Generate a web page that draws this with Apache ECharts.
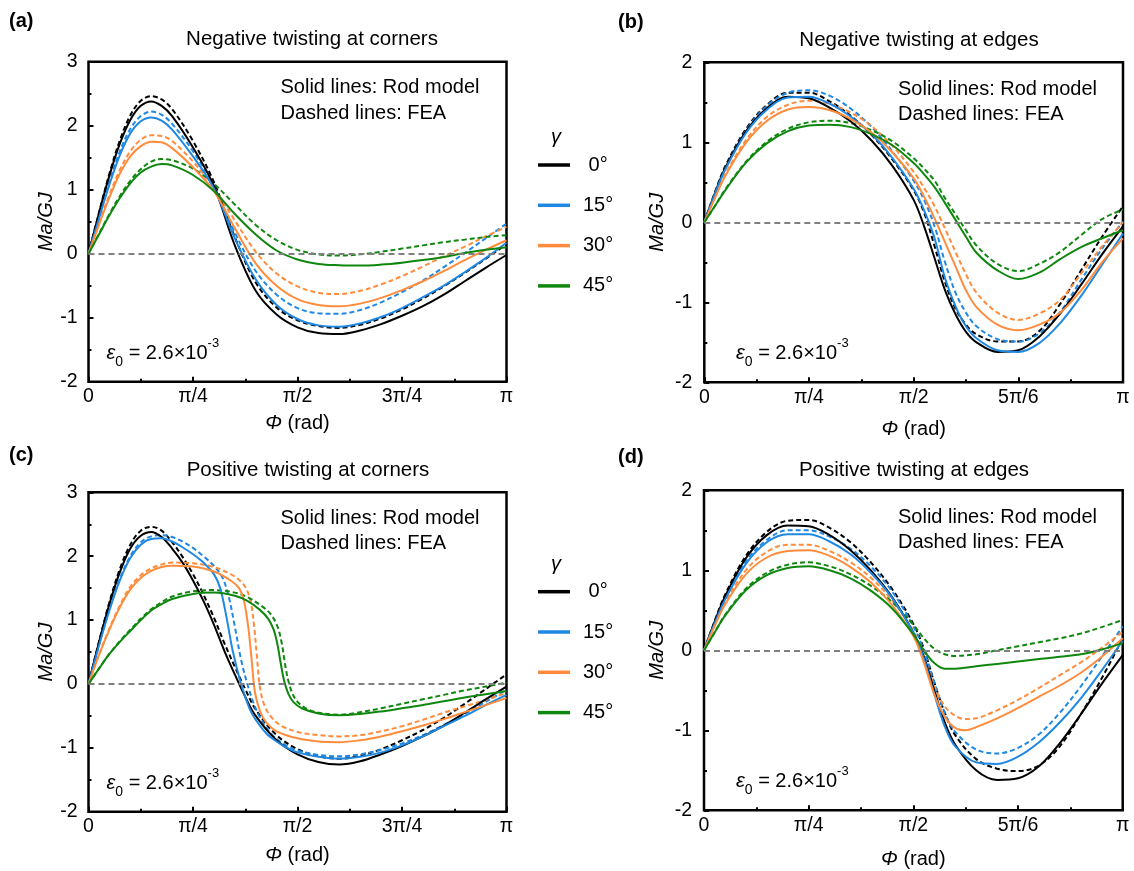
<!DOCTYPE html>
<html><head><meta charset="utf-8">
<script src="https://cdn.jsdelivr.net/npm/echarts@6/dist/echarts.min.js"></script>
<style>html,body{margin:0;padding:0;background:#fff}#c{width:1134px;height:871px}</style>
</head><body><div id="c"></div>
<script>
// x values are phi/pi ; y values are Ma/GJ
const xLabelsCorners = ['0','π/4','π/2','3π/4','π'];
const xLabelsEdges = ['0','π/4','π/2','5π/6','π'];
const gammaNames = ['0°','15°','30°','45°'];
const lineColors = ['#000000','#1f88e3','#ff8c3c','#0f870f'];

// (a) Negative twisting at corners
const A_rod0 = [[0,0],[0.025,0.63],[0.05,1.22],[0.075,1.72],[0.1,2.09],[0.125,2.31],[0.15,2.38],[0.175,2.31],[0.2,2.15],[0.25,1.66],[0.3,1.06],[0.35,0.13],[0.4,-0.58],[0.45,-0.95],[0.5,-1.15],[0.55,-1.24],[0.6,-1.255],[0.65,-1.2],[0.7,-1.1],[0.75,-0.97],[0.8,-0.82],[0.85,-0.64],[0.9,-0.43],[0.95,-0.22],[1,-0.02]];
const A_fea0 = [[0,0],[0.025,0.64],[0.05,1.25],[0.075,1.77],[0.1,2.16],[0.125,2.39],[0.15,2.46],[0.175,2.41],[0.2,2.26],[0.25,1.76],[0.3,1.12],[0.35,0.26],[0.4,-0.45],[0.45,-0.84],[0.5,-1.04],[0.55,-1.13],[0.6,-1.16],[0.65,-1.11],[0.7,-1.01],[0.75,-0.87],[0.8,-0.7],[0.85,-0.51],[0.9,-0.3],[0.95,-0.08],[1,0.15]];
const A_rod15 = [[0,0],[0.025,0.55],[0.05,1.08],[0.075,1.54],[0.1,1.88],[0.125,2.07],[0.15,2.13],[0.175,2.08],[0.2,1.94],[0.25,1.52],[0.3,1.02],[0.35,0.24],[0.4,-0.4],[0.45,-0.8],[0.5,-1.02],[0.55,-1.12],[0.6,-1.14],[0.65,-1.09],[0.7,-0.99],[0.75,-0.85],[0.8,-0.68],[0.85,-0.5],[0.9,-0.29],[0.95,-0.07],[1,0.17]];
const A_fea15 = [[0,0],[0.025,0.57],[0.05,1.12],[0.075,1.6],[0.1,1.95],[0.125,2.15],[0.15,2.22],[0.175,2.17],[0.2,2.03],[0.25,1.6],[0.3,1.05],[0.35,0.33],[0.4,-0.27],[0.45,-0.64],[0.5,-0.85],[0.55,-0.93],[0.6,-0.94],[0.65,-0.88],[0.7,-0.76],[0.75,-0.6],[0.8,-0.42],[0.85,-0.21],[0.9,0.01],[0.95,0.24],[1,0.47]];
const A_rod30 = [[0,0],[0.025,0.45],[0.05,0.88],[0.075,1.25],[0.1,1.52],[0.125,1.68],[0.15,1.75],[0.175,1.74],[0.2,1.65],[0.25,1.35],[0.3,0.98],[0.35,0.4],[0.4,-0.15],[0.45,-0.5],[0.5,-0.71],[0.55,-0.8],[0.6,-0.82],[0.65,-0.78],[0.7,-0.69],[0.75,-0.57],[0.8,-0.43],[0.85,-0.27],[0.9,-0.1],[0.95,0.06],[1,0.21]];
const A_fea30 = [[0,0],[0.025,0.47],[0.05,0.92],[0.075,1.31],[0.1,1.6],[0.125,1.78],[0.15,1.85],[0.175,1.84],[0.2,1.76],[0.25,1.44],[0.3,1.03],[0.35,0.52],[0.4,0.03],[0.45,-0.31],[0.5,-0.51],[0.55,-0.61],[0.6,-0.63],[0.65,-0.58],[0.7,-0.48],[0.75,-0.35],[0.8,-0.2],[0.85,-0.04],[0.9,0.11],[0.95,0.27],[1,0.42]];
const A_rod45 = [[0,0],[0.025,0.3],[0.05,0.6],[0.075,0.87],[0.1,1.1],[0.125,1.27],[0.15,1.36],[0.175,1.4],[0.2,1.38],[0.25,1.23],[0.3,0.98],[0.35,0.62],[0.4,0.3],[0.45,0.05],[0.5,-0.09],[0.55,-0.16],[0.6,-0.18],[0.65,-0.185],[0.7,-0.17],[0.75,-0.14],[0.8,-0.1],[0.85,-0.05],[0.9,0.01],[0.95,0.06],[1,0.1]];
const A_fea45 = [[0,0],[0.025,0.31],[0.05,0.62],[0.075,0.9],[0.1,1.14],[0.125,1.32],[0.15,1.44],[0.175,1.48],[0.2,1.46],[0.25,1.33],[0.3,1.09],[0.35,0.77],[0.4,0.45],[0.45,0.21],[0.5,0.06],[0.55,-0.01],[0.6,-0.03],[0.65,-0.01],[0.7,0.03],[0.75,0.08],[0.8,0.13],[0.85,0.18],[0.9,0.22],[0.95,0.26],[1,0.29]];

// (b) Negative twisting at edges
const B_rod0 = [[0,0],[0.025,0.36],[0.05,0.68],[0.1,1.14],[0.15,1.43],[0.2,1.57],[0.25,1.55],[0.3,1.43],[0.35,1.26],[0.4,1.02],[0.45,0.7],[0.5,0.28],[0.525,-0.05],[0.55,-0.45],[0.575,-0.85],[0.6,-1.15],[0.625,-1.37],[0.65,-1.5],[0.7,-1.62],[0.75,-1.6],[0.8,-1.43],[0.85,-1.14],[0.9,-0.78],[0.95,-0.4],[1,-0.05]];
const B_fea0 = [[0,0],[0.025,0.37],[0.05,0.7],[0.1,1.17],[0.15,1.47],[0.2,1.62],[0.25,1.62],[0.3,1.51],[0.35,1.33],[0.4,1.09],[0.45,0.78],[0.5,0.4],[0.525,0.12],[0.55,-0.3],[0.575,-0.75],[0.6,-1.08],[0.625,-1.28],[0.65,-1.4],[0.7,-1.49],[0.75,-1.49],[0.8,-1.36],[0.85,-1.02],[0.9,-0.6],[0.95,-0.18],[1,0.2]];
const B_rod15 = [[0,0],[0.025,0.35],[0.05,0.66],[0.1,1.12],[0.15,1.41],[0.2,1.56],[0.25,1.57],[0.3,1.48],[0.35,1.32],[0.4,1.1],[0.45,0.8],[0.5,0.42],[0.525,0.15],[0.55,-0.2],[0.575,-0.7],[0.6,-1.05],[0.625,-1.3],[0.65,-1.45],[0.7,-1.6],[0.75,-1.62],[0.8,-1.51],[0.85,-1.26],[0.9,-0.92],[0.95,-0.53],[1,-0.14]];
const B_fea15 = [[0,0],[0.025,0.36],[0.05,0.68],[0.1,1.15],[0.15,1.46],[0.2,1.62],[0.25,1.65],[0.3,1.58],[0.35,1.42],[0.4,1.19],[0.45,0.88],[0.5,0.52],[0.525,0.28],[0.55,-0.05],[0.575,-0.5],[0.6,-0.88],[0.625,-1.13],[0.65,-1.3],[0.7,-1.46],[0.75,-1.49],[0.8,-1.39],[0.85,-1.12],[0.9,-0.72],[0.95,-0.33],[1,0.01]];
const B_rod30 = [[0,0],[0.025,0.3],[0.05,0.58],[0.1,1.0],[0.15,1.27],[0.2,1.41],[0.25,1.44],[0.3,1.4],[0.35,1.29],[0.4,1.12],[0.45,0.87],[0.5,0.55],[0.525,0.32],[0.55,0.05],[0.575,-0.25],[0.6,-0.55],[0.625,-0.85],[0.65,-1.06],[0.7,-1.28],[0.75,-1.35],[0.8,-1.28],[0.85,-1.13],[0.9,-0.85],[0.95,-0.5],[1,-0.2]];
const B_fea30 = [[0,0],[0.025,0.31],[0.05,0.6],[0.1,1.03],[0.15,1.32],[0.2,1.47],[0.25,1.52],[0.3,1.48],[0.35,1.37],[0.4,1.2],[0.45,0.95],[0.5,0.63],[0.525,0.43],[0.55,0.2],[0.575,-0.08],[0.6,-0.37],[0.625,-0.65],[0.65,-0.88],[0.7,-1.13],[0.75,-1.22],[0.8,-1.14],[0.85,-0.97],[0.9,-0.64],[0.95,-0.3],[1,0.0]];
const B_rod45 = [[0,0],[0.025,0.2],[0.05,0.4],[0.1,0.75],[0.15,0.99],[0.2,1.14],[0.25,1.21],[0.3,1.22],[0.35,1.19],[0.4,1.1],[0.45,0.96],[0.5,0.74],[0.525,0.6],[0.55,0.44],[0.575,0.24],[0.6,0.03],[0.625,-0.18],[0.65,-0.38],[0.7,-0.6],[0.75,-0.71],[0.8,-0.63],[0.85,-0.46],[0.9,-0.31],[0.95,-0.2],[1,-0.1]];
const B_fea45 = [[0,0],[0.025,0.2],[0.05,0.41],[0.1,0.76],[0.15,1.01],[0.2,1.17],[0.25,1.25],[0.3,1.27],[0.35,1.24],[0.4,1.15],[0.45,1.01],[0.5,0.8],[0.525,0.67],[0.55,0.52],[0.575,0.3],[0.6,0.1],[0.625,-0.1],[0.65,-0.29],[0.7,-0.52],[0.75,-0.61],[0.8,-0.52],[0.85,-0.37],[0.9,-0.16],[0.95,0.04],[1,0.16]];

// (c) Positive twisting at corners
const C_rod0 = [[0,0],[0.025,0.65],[0.05,1.25],[0.075,1.75],[0.1,2.12],[0.125,2.32],[0.15,2.38],[0.175,2.3],[0.2,2.12],[0.225,1.9],[0.25,1.62],[0.275,1.3],[0.3,0.93],[0.325,0.52],[0.35,0.15],[0.375,-0.2],[0.4,-0.5],[0.45,-0.88],[0.5,-1.1],[0.55,-1.22],[0.6,-1.26],[0.65,-1.21],[0.7,-1.1],[0.75,-0.97],[0.8,-0.82],[0.85,-0.65],[0.9,-0.45],[0.95,-0.24],[1,-0.04]];
const C_fea0 = [[0,0],[0.025,0.66],[0.05,1.28],[0.075,1.8],[0.1,2.18],[0.125,2.4],[0.15,2.46],[0.175,2.4],[0.2,2.22],[0.225,1.99],[0.25,1.72],[0.275,1.4],[0.3,1.04],[0.325,0.64],[0.35,0.27],[0.375,-0.08],[0.4,-0.4],[0.45,-0.8],[0.5,-1.02],[0.55,-1.13],[0.6,-1.17],[0.65,-1.12],[0.7,-1.02],[0.75,-0.88],[0.8,-0.72],[0.85,-0.53],[0.9,-0.31],[0.95,-0.08],[1,0.15]];
const C_rod15 = [[0,0],[0.025,0.6],[0.05,1.15],[0.075,1.62],[0.1,1.97],[0.125,2.18],[0.15,2.27],[0.175,2.28],[0.2,2.23],[0.225,2.14],[0.25,2.03],[0.275,1.9],[0.3,1.72],[0.315,1.5],[0.33,1.05],[0.345,0.52],[0.365,0.0],[0.385,-0.38],[0.4,-0.56],[0.425,-0.77],[0.45,-0.9],[0.475,-1.0],[0.5,-1.07],[0.55,-1.14],[0.6,-1.17],[0.65,-1.14],[0.7,-1.07],[0.75,-0.96],[0.8,-0.82],[0.85,-0.66],[0.9,-0.5],[0.95,-0.33],[1,-0.17]];
const C_fea15 = [[0,0],[0.025,0.61],[0.05,1.17],[0.075,1.65],[0.1,2.0],[0.125,2.22],[0.15,2.31],[0.175,2.33],[0.2,2.3],[0.225,2.23],[0.25,2.13],[0.275,2.0],[0.3,1.85],[0.32,1.67],[0.335,1.38],[0.35,0.9],[0.365,0.38],[0.38,0.0],[0.395,-0.3],[0.41,-0.52],[0.44,-0.8],[0.475,-0.97],[0.5,-1.04],[0.55,-1.11],[0.6,-1.13],[0.65,-1.1],[0.7,-1.03],[0.75,-0.93],[0.8,-0.8],[0.85,-0.64],[0.9,-0.47],[0.95,-0.28],[1,-0.09]];
const C_rod30 = [[0,0],[0.025,0.45],[0.05,0.85],[0.075,1.2],[0.1,1.48],[0.125,1.66],[0.15,1.77],[0.175,1.83],[0.2,1.85],[0.25,1.84],[0.3,1.76],[0.34,1.62],[0.36,1.5],[0.372,1.3],[0.382,0.9],[0.39,0.4],[0.398,-0.12],[0.41,-0.42],[0.425,-0.6],[0.45,-0.74],[0.5,-0.85],[0.55,-0.9],[0.6,-0.91],[0.65,-0.88],[0.7,-0.82],[0.75,-0.74],[0.8,-0.65],[0.85,-0.55],[0.9,-0.44],[0.95,-0.33],[1,-0.22]];
const C_fea30 = [[0,0],[0.025,0.46],[0.05,0.87],[0.075,1.23],[0.1,1.52],[0.125,1.7],[0.15,1.81],[0.175,1.87],[0.2,1.9],[0.25,1.89],[0.3,1.83],[0.34,1.72],[0.36,1.63],[0.375,1.52],[0.387,1.32],[0.396,0.92],[0.403,0.42],[0.41,-0.05],[0.42,-0.32],[0.435,-0.5],[0.46,-0.65],[0.5,-0.75],[0.55,-0.8],[0.6,-0.82],[0.65,-0.8],[0.7,-0.74],[0.75,-0.66],[0.8,-0.56],[0.85,-0.45],[0.9,-0.35],[0.95,-0.25],[1,-0.14]];
const C_rod45 = [[0,0],[0.025,0.24],[0.05,0.47],[0.075,0.66],[0.1,0.83],[0.125,1.0],[0.15,1.15],[0.175,1.25],[0.2,1.33],[0.25,1.41],[0.3,1.43],[0.35,1.38],[0.38,1.3],[0.41,1.16],[0.43,1.02],[0.443,0.85],[0.452,0.62],[0.46,0.32],[0.468,0.05],[0.478,-0.15],[0.49,-0.28],[0.51,-0.38],[0.55,-0.46],[0.6,-0.49],[0.65,-0.47],[0.7,-0.43],[0.75,-0.38],[0.8,-0.33],[0.85,-0.27],[0.9,-0.21],[0.95,-0.16],[1,-0.11]];
const C_fea45 = [[0,0],[0.025,0.24],[0.05,0.47],[0.075,0.67],[0.1,0.85],[0.125,1.02],[0.15,1.17],[0.175,1.28],[0.2,1.37],[0.25,1.45],[0.3,1.47],[0.35,1.43],[0.38,1.36],[0.41,1.24],[0.435,1.1],[0.452,0.9],[0.462,0.65],[0.47,0.32],[0.478,0.05],[0.488,-0.15],[0.5,-0.28],[0.52,-0.38],[0.55,-0.45],[0.6,-0.48],[0.65,-0.44],[0.7,-0.38],[0.75,-0.31],[0.8,-0.24],[0.85,-0.17],[0.9,-0.1],[0.95,-0.04],[1,0.02]];

// (d) Positive twisting at edges
const D_rod0 = [[0,0],[0.025,0.35],[0.05,0.67],[0.1,1.15],[0.15,1.44],[0.2,1.56],[0.25,1.55],[0.3,1.44],[0.35,1.25],[0.4,0.99],[0.45,0.66],[0.5,0.22],[0.525,-0.08],[0.55,-0.5],[0.575,-0.9],[0.6,-1.18],[0.65,-1.5],[0.7,-1.62],[0.75,-1.6],[0.8,-1.45],[0.85,-1.16],[0.9,-0.8],[0.95,-0.42],[1,-0.06]];
const D_fea0 = [[0,0],[0.025,0.36],[0.05,0.69],[0.1,1.18],[0.15,1.48],[0.2,1.62],[0.25,1.63],[0.3,1.53],[0.35,1.35],[0.4,1.09],[0.45,0.76],[0.5,0.33],[0.525,0.02],[0.55,-0.4],[0.575,-0.78],[0.6,-1.06],[0.65,-1.36],[0.7,-1.48],[0.75,-1.51],[0.8,-1.44],[0.85,-1.2],[0.9,-0.8],[0.95,-0.35],[1,0.15]];
const D_rod15 = [[0,0],[0.025,0.33],[0.05,0.63],[0.1,1.08],[0.15,1.35],[0.2,1.45],[0.25,1.45],[0.3,1.36],[0.35,1.2],[0.4,0.96],[0.45,0.65],[0.5,0.22],[0.525,-0.1],[0.55,-0.55],[0.575,-0.95],[0.6,-1.2],[0.65,-1.4],[0.7,-1.42],[0.75,-1.33],[0.8,-1.15],[0.85,-0.9],[0.9,-0.6],[0.95,-0.25],[1,0.12]];
const D_fea15 = [[0,0],[0.025,0.34],[0.05,0.65],[0.1,1.11],[0.15,1.38],[0.2,1.5],[0.25,1.5],[0.3,1.42],[0.35,1.27],[0.4,1.04],[0.45,0.73],[0.5,0.3],[0.525,0.0],[0.55,-0.4],[0.575,-0.78],[0.6,-1.02],[0.65,-1.24],[0.7,-1.29],[0.75,-1.22],[0.8,-1.05],[0.85,-0.78],[0.9,-0.45],[0.95,-0.08],[1,0.3]];
const D_rod30 = [[0,0],[0.025,0.3],[0.05,0.57],[0.1,0.95],[0.15,1.16],[0.2,1.24],[0.25,1.25],[0.3,1.18],[0.35,1.04],[0.4,0.84],[0.45,0.56],[0.5,0.18],[0.525,-0.15],[0.55,-0.55],[0.575,-0.83],[0.6,-0.97],[0.625,-1.0],[0.65,-0.96],[0.7,-0.85],[0.75,-0.72],[0.8,-0.58],[0.85,-0.44],[0.9,-0.28],[0.95,-0.08],[1,0.15]];
const D_fea30 = [[0,0],[0.025,0.31],[0.05,0.59],[0.1,1.0],[0.15,1.23],[0.2,1.32],[0.25,1.32],[0.3,1.24],[0.35,1.1],[0.4,0.9],[0.45,0.62],[0.5,0.24],[0.525,-0.08],[0.55,-0.45],[0.575,-0.7],[0.6,-0.82],[0.625,-0.86],[0.65,-0.85],[0.7,-0.75],[0.75,-0.62],[0.8,-0.47],[0.85,-0.31],[0.9,-0.15],[0.95,0.03],[1,0.23]];
const D_rod45 = [[0,0],[0.025,0.22],[0.05,0.43],[0.1,0.75],[0.15,0.94],[0.2,1.03],[0.25,1.05],[0.3,1.0],[0.35,0.9],[0.4,0.74],[0.45,0.52],[0.5,0.2],[0.525,0.0],[0.55,-0.16],[0.575,-0.23],[0.6,-0.23],[0.65,-0.2],[0.7,-0.17],[0.75,-0.14],[0.8,-0.11],[0.85,-0.08],[0.9,-0.05],[0.95,0.01],[1,0.09]];
const D_fea45 = [[0,0],[0.025,0.22],[0.05,0.44],[0.1,0.77],[0.15,0.97],[0.2,1.07],[0.25,1.1],[0.3,1.05],[0.35,0.95],[0.4,0.8],[0.45,0.6],[0.5,0.32],[0.525,0.15],[0.55,0.02],[0.575,-0.05],[0.6,-0.07],[0.65,-0.05],[0.7,0.0],[0.75,0.05],[0.8,0.1],[0.85,0.15],[0.9,0.21],[0.95,0.29],[1,0.38]];

const FONT = "'Liberation Sans', Arial, Helvetica, sans-serif";

const panels = [
  {grid:{left:88.5, top:61.7, width:418, height:320}, ymin:-2, ymax:3, xl:xLabelsCorners,
   rod:[A_rod0,A_rod15,A_rod30,A_rod45], fea:[A_fea0,A_fea15,A_fea30,A_fea45], yGap:31, xGap:32, yMargin:11},
  {grid:{left:704.3, top:62.3, width:418.7, height:320}, ymin:-2, ymax:2, xl:xLabelsEdges,
   rod:[B_rod0,B_rod15,B_rod30,B_rod45], fea:[B_fea0,B_fea15,B_fea30,B_fea45], yGap:37, xGap:37, yMargin:12},
  {grid:{left:88.5, top:492.3, width:418, height:319.5}, ymin:-2, ymax:3, xl:xLabelsCorners,
   rod:[C_rod0,C_rod15,C_rod30,C_rod45], fea:[C_fea0,C_fea15,C_fea30,C_fea45], yGap:31, xGap:34, yMargin:11},
  {grid:{left:704, top:490.3, width:418.7, height:320}, ymin:-2, ymax:2, xl:xLabelsEdges,
   rod:[D_rod0,D_rod15,D_rod30,D_rod45], fea:[D_fea0,D_fea15,D_fea30,D_fea45], yGap:37, xGap:39, yMargin:12}
];

const grids = [], xAxes = [], yAxes = [], series = [];
panels.forEach((p, i) => {
  grids.push(Object.assign({show:true, borderColor:'#000', borderWidth:2.5, backgroundColor:'transparent', containLabel:false}, p.grid));
  xAxes.push({
    type:'value', gridIndex:i, min:0, max:1, interval:0.25, position:'bottom',
    axisLine:{show:false, onZero:false}, splitLine:{show:false},
    axisTick:{show:true, inside:true, length:5, lineStyle:{color:'#000', width:2}},
    minorTick:{show:true, splitNumber:2, length:3, lineStyle:{color:'#000', width:2}},
    axisLabel:{color:'#000', fontSize:19.5, fontFamily:FONT, margin:5,
      formatter: v => p.xl[Math.round(v / 0.25)]},
    name:'{i|Φ} (rad)', nameLocation:'middle', nameGap:p.xGap,
    nameTextStyle:{color:'#000', fontSize:20, fontFamily:FONT,
      rich:{i:{fontStyle:'italic', fontSize:20, fontFamily:FONT, color:'#000'}}}
  });
  yAxes.push({
    type:'value', gridIndex:i, min:p.ymin, max:p.ymax, interval:1, position:'left',
    axisLine:{show:false, onZero:false}, splitLine:{show:false},
    axisTick:{show:true, inside:true, length:5, lineStyle:{color:'#000', width:2}},
    minorTick:{show:true, splitNumber:2, length:3, lineStyle:{color:'#000', width:2}},
    axisLabel:{color:'#000', fontSize:19.5, fontFamily:FONT, margin:p.yMargin},
    name:'Ma/GJ', nameLocation:'middle', nameGap:p.yGap,
    nameTextStyle:{color:'#000', fontSize:20, fontStyle:'italic', fontFamily:FONT}
  });
  for (let k = 0; k < 4; k++) {
    series.push({
      type:'line', name:gammaNames[k], xAxisIndex:i, yAxisIndex:i, data:p.rod[k],
      showSymbol:false, symbol:'none', smooth:0.35, silent:true,
      itemStyle:{color:lineColors[k]},
      lineStyle:{color:lineColors[k], width:2, type:'solid'},
      z: 3,
      markLine: k === 0 ? {silent:true, symbol:'none', label:{show:false}, animation:false,
        lineStyle:{color:'#808080', type:[6,4], width:1.8}, data:[{yAxis:0}]} : undefined
    });
    series.push({
      type:'line', name:gammaNames[k], xAxisIndex:i, yAxisIndex:i, data:p.fea[k],
      showSymbol:false, symbol:'none', smooth:0.35, silent:true,
      itemStyle:{color:lineColors[k]},
      lineStyle:{color:lineColors[k], width:2, type:[5,3]},
      z: 2
    });
  }
});

function txt(x, y, text, opts) {
  return {type:'text', x:x, y:y, silent:true, style:Object.assign({
    text:text, fill:'#000', font:'20px ' + FONT,
    align:'left', verticalAlign:'middle', textAlign:'left', textVerticalAlign:'middle'}, opts || {})};
}
function ctxt(x, y, text, opts) {
  return txt(x, y, text, Object.assign({align:'center', textAlign:'center'}, opts || {}));
}
const epsRich = {
  e:{fontSize:20, fontStyle:'italic', fontFamily:FONT, lineHeight:32, fill:'#000', color:'#000'},
  m:{fontSize:20, fontFamily:FONT, lineHeight:32, fill:'#000', color:'#000'},
  s:{fontSize:14, fontFamily:FONT, lineHeight:14, verticalAlign:'bottom', fill:'#000', color:'#000'},
  p:{fontSize:13, fontFamily:FONT, lineHeight:24, verticalAlign:'top', fill:'#000', color:'#000'}
};
const epsText = '{e|ε}{s|0}{m| = 2.6×10}{p|-3}';
function eps(x, y) { return txt(x, y, epsText, {rich:epsRich}); }

const graphics = [
  txt(9, 21, '(a)', {font:'bold 20px ' + FONT}),
  txt(618, 22, '(b)', {font:'bold 20px ' + FONT}),
  txt(9, 455, '(c)', {font:'bold 20px ' + FONT}),
  txt(618, 457, '(d)', {font:'bold 20px ' + FONT}),
  ctxt(312, 39, 'Negative twisting at corners', {font:'20.5px ' + FONT}),
  ctxt(919, 40, 'Negative twisting at edges', {font:'20.5px ' + FONT}),
  ctxt(308, 470, 'Positive twisting at corners', {font:'20.5px ' + FONT}),
  ctxt(914, 470, 'Positive twisting at edges', {font:'20.5px ' + FONT}),
  txt(280.5, 87.5, 'Solid lines: Rod model'), txt(280.5, 113, 'Dashed lines: FEA'),
  txt(898, 89, 'Solid lines: Rod model'), txt(898, 114.5, 'Dashed lines: FEA'),
  txt(280.5, 518.5, 'Solid lines: Rod model'), txt(280.5, 543.5, 'Dashed lines: FEA'),
  txt(898, 517.5, 'Solid lines: Rod model'), txt(898, 542.5, 'Dashed lines: FEA'),
  eps(106.5, 353), eps(736, 353), eps(106.5, 783), eps(736, 781),
  ctxt(556, 137, 'γ', {font:'italic 20px ' + FONT}),
  ctxt(556, 564, 'γ', {font:'italic 20px ' + FONT})
];

function legendAt(top) {
  return {
    data: gammaNames, orient:'vertical', left:538, top:top, padding:0,
    icon:'rect', itemWidth:32, itemHeight:3.5, itemGap:20.3, selectedMode:false,
    itemStyle:{borderWidth:0},
    formatter: n => n === '0°' ? ' ' + n : n,
    textStyle:{color:'#000', fontSize:20, fontFamily:FONT, lineHeight:20, padding:[0,0,0,8]}
  };
}

const option = {
  animation:false,
  backgroundColor:'#fff',
  textStyle:{fontFamily:FONT},
  grid:grids, xAxis:xAxes, yAxis:yAxes, series:series,
  legend:[legendAt(155), legendAt(581.7)],
  graphic:graphics
};

const chart = echarts.init(document.getElementById('c'), null, {renderer:'canvas'});
chart.setOption(option);
</script></body></html>
